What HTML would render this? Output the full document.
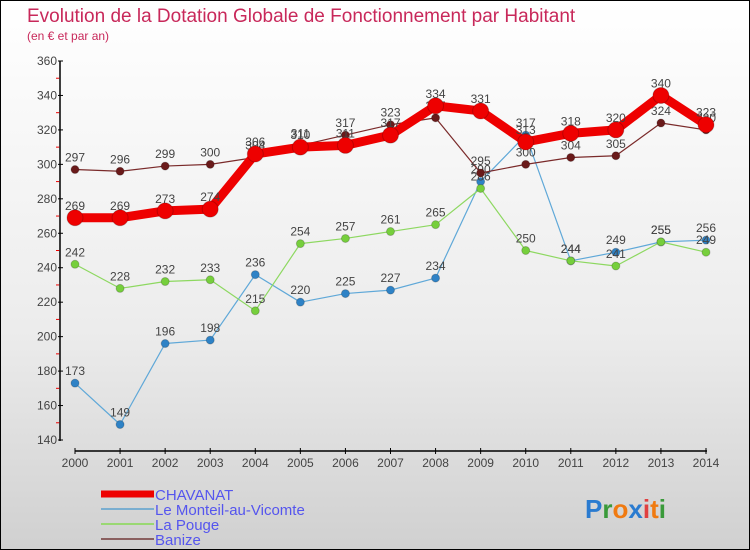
<!DOCTYPE html>
<html><head><meta charset="utf-8"><style>
body{margin:0;}
#wrap{position:relative;width:748px;height:548px;border:1px solid #000;background:linear-gradient(#fff 0%,#ececec 60%,#d0d0d0 100%);font-family:"Liberation Sans",sans-serif;overflow:hidden}
svg text{font-family:"Liberation Sans",sans-serif}
</style></head><body>
<div id="wrap">
<svg id="chart" width="748" height="548"></svg>
</div>
<script>
const years=[2000,2001,2002,2003,2004,2005,2006,2007,2008,2009,2010,2011,2012,2013,2014];
const chavanat=[269,269,273,274,306,310,311,317,334,331,313,318,320,340,323];
const monteil=[173,149,196,198,236,220,225,227,234,290,317,244,249,255,256];
const pouge=[242,228,232,233,215,254,257,261,265,286,250,244,241,255,249];
const banize=[297,296,299,300,304,311,317,323,327,295,300,304,305,324,320];
const yTicks=[140,160,180,200,220,240,260,280,300,320,340,360];
const seriesNames=["CHAVANAT","Le Monteil-au-Vicomte","La Pouge","Banize"];

const NS="http://www.w3.org/2000/svg";
const svg=document.getElementById('chart');
function el(t,a,txt){const e=document.createElementNS(NS,t);for(const k in a)e.setAttribute(k,a[k]);if(txt!==undefined)e.textContent=txt;svg.appendChild(e);return e;}
const xS=i=>74+i*(631/(years.length-1));
const yS=v=>439-(v-140)*(379/220);

let t=el('text',{x:26,y:21,fill:'#c8285a','font-size':19},'Evolution de la Dotation Globale de Fonctionnement par Habitant');

t=el('text',{x:26,y:39,fill:'#c8285a','font-size':12},'(en € et par an)');


let a=el('line',{x1:59,y1:60,x2:59,y2:440,stroke:'#000','stroke-width':1.5});

yTicks.forEach((v,i)=>{
  el('line',{x1:57,y1:yS(v),x2:62,y2:yS(v),stroke:'#000'});
  const l=el('text',{x:56,y:yS(v)+4,'text-anchor':'end','font-size':12,fill:'#444'},v);
  
  if(i<yTicks.length-1)el('line',{x1:55,y1:yS(v+10),x2:58.2,y2:yS(v+10),stroke:'#e00'});
});
a=el('line',{x1:74,y1:450,x2:706,y2:450,stroke:'#000','stroke-width':1.5});

years.forEach((y,i)=>{
  el('line',{x1:xS(i),y1:447,x2:xS(i),y2:453,stroke:'#000'});
  const l=el('text',{x:xS(i),y:466,'text-anchor':'middle','font-size':12,fill:'#444'},y);
  
});

function series(data,color,w,r,name,fill){
  const p=el('polyline',{points:data.map((v,i)=>xS(i)+','+yS(v)).join(' '),fill:'none',stroke:color,'stroke-width':w,'stroke-linejoin':'round'});
  
  data.forEach((v,i)=>{
    const c=el('circle',{cx:xS(i),cy:yS(v),r:r,fill:fill,stroke:'rgba(0,0,0,0.2)'});
    
    const l=el('text',{x:xS(i),y:yS(v)-8,'text-anchor':'middle','font-size':12,fill:'#444'},v);
    
  });
}
series(monteil,'#5fa8d8',1.2,4,'monteil','#2e82c6');
series(pouge,'#8dd860',1.2,4,'pouge','#76cf3c');
series(banize,'#7a2a2a',1.2,4,'banize','#6a1a1a');
series(chavanat,'#ee0000',9,8,'chavanat','#ee0000');

const legColors=['#ee0000','#7aaed0','#9ad873','#8a6060'];
const legW=[7,2,2,2];
seriesNames.forEach((n,i)=>{
  const y=493+i*15;
  const ln=el('line',{x1:100,y1:y,x2:153,y2:y,stroke:legColors[i],'stroke-width':legW[i]});
  
  const l=el('text',{x:154,y:y+6,'font-size':15,fill:'#5555ee'},n);
  
});
const lg=el('text',{x:584,y:517,'font-size':26,'font-weight':'bold'});

const letters=['P','r','o','x','i','t','i'];const lc=['#2a7bd0','#3a9a3a','#f07a10','#2a7bd0','#e04040','#f07a10','#3a9a3a'];
letters.forEach((c,i)=>{const s=document.createElementNS(NS,'tspan');s.setAttribute('fill',lc[i]);s.textContent=c;lg.appendChild(s);});
</script>
</body></html>
